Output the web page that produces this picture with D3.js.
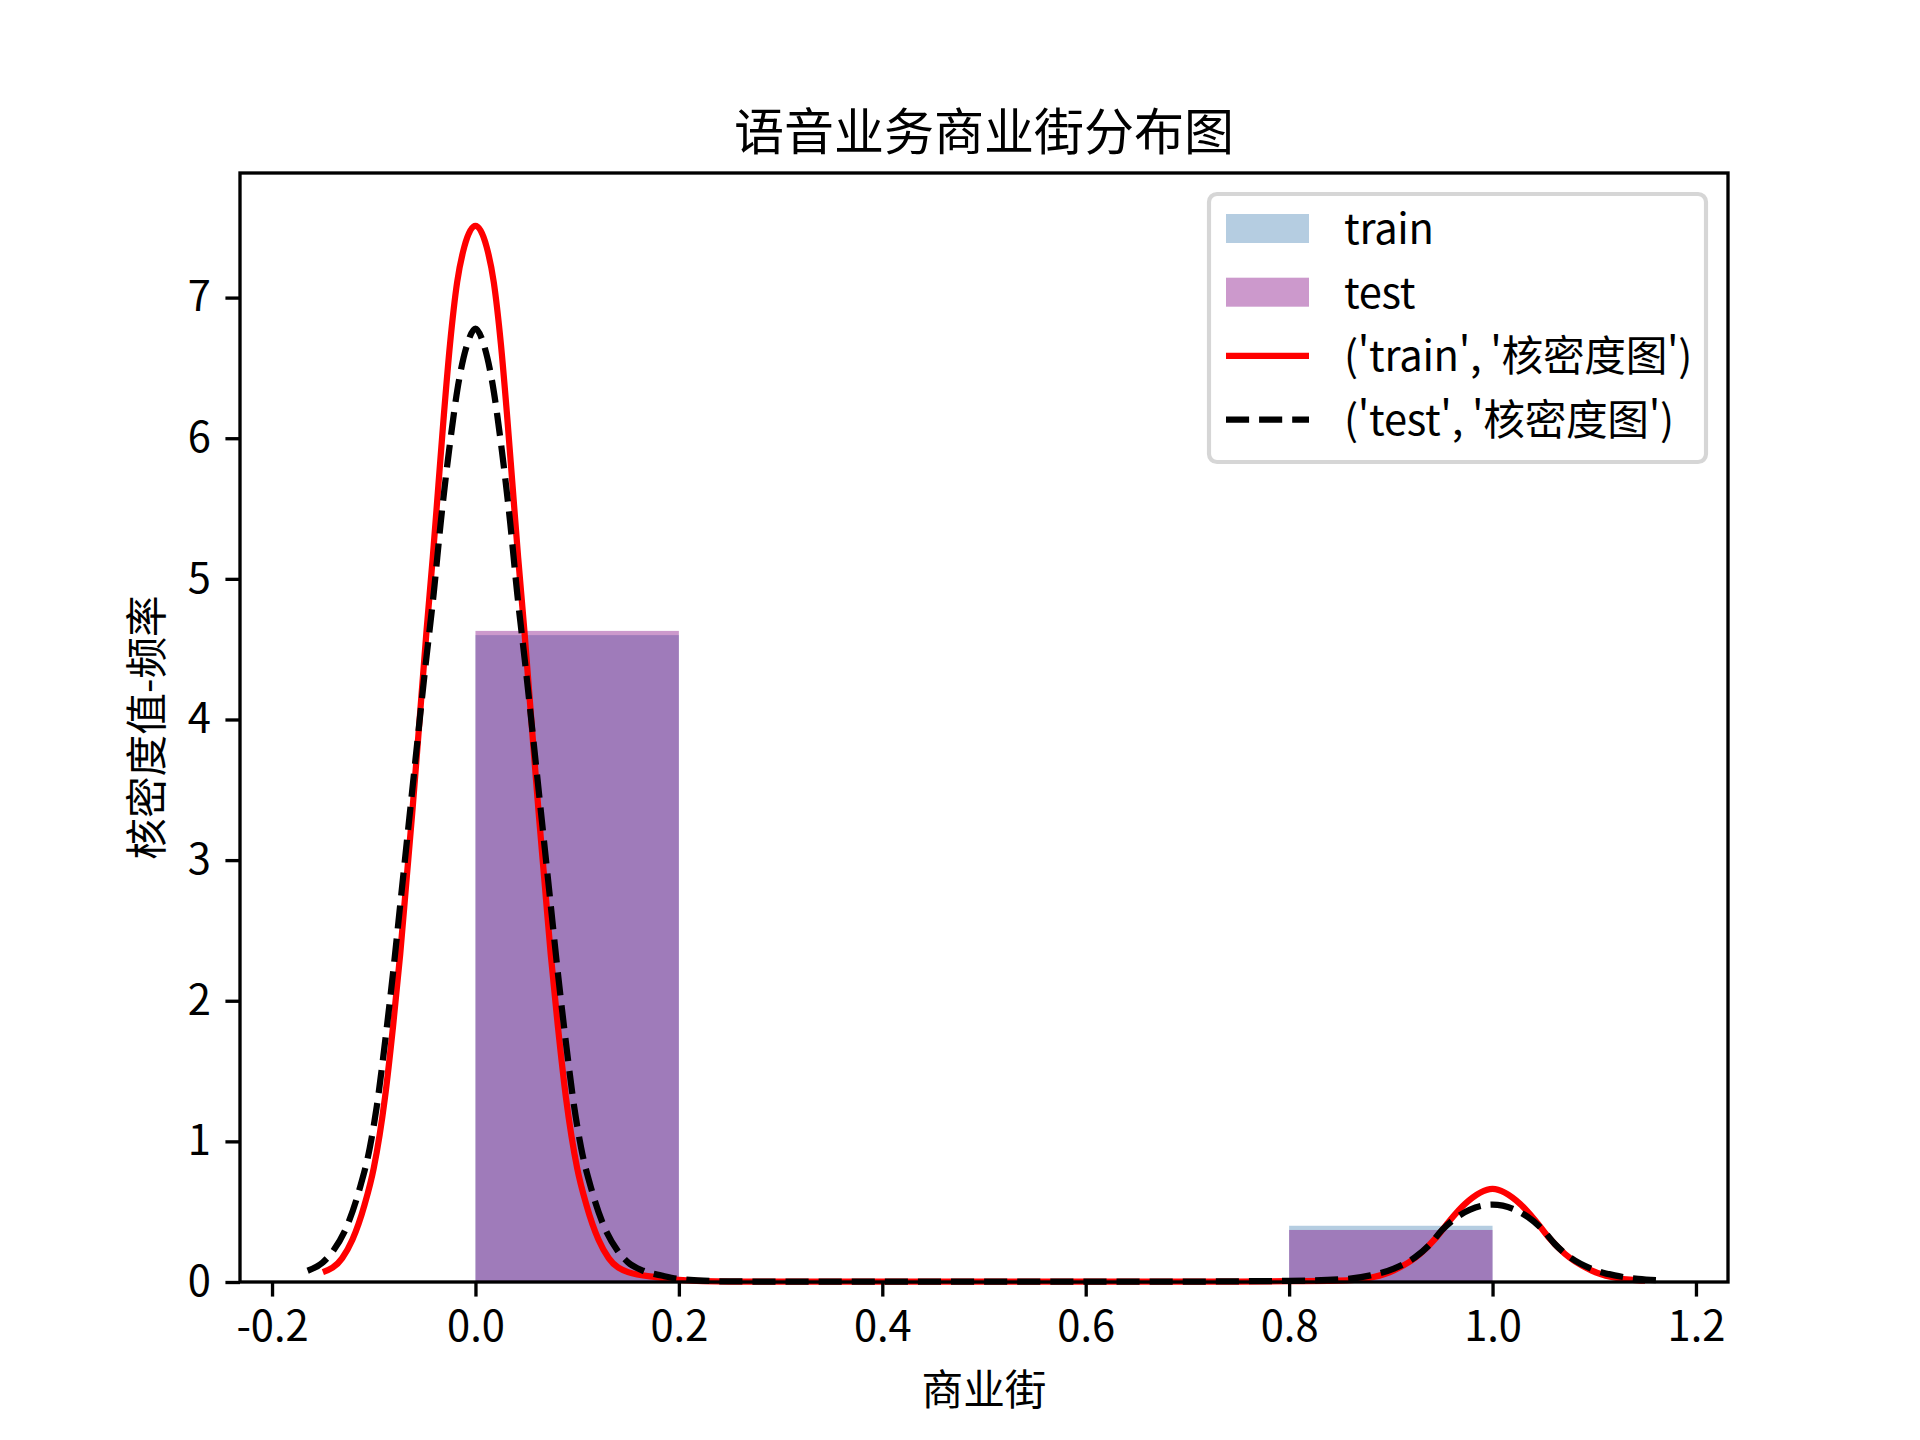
<!DOCTYPE html>
<html lang="zh">
  <head>
    <meta charset="utf-8">
    <title>语音业务商业街分布图</title>
    <script src="https://cdnjs.cloudflare.com/ajax/libs/d3/7.8.5/d3.min.js"></script>
    <style>
      body { margin: 0; background: #fff; }
      text { font-family: 'Noto Sans CJK SC', 'Noto Sans', sans-serif; fill: #000; }
    </style>
  </head>
  <body>
    <div id='chart'></div>

    <script type='text/javascript'>
      // histogram (density) values, 5 bins between 0 and 1
      let binEdges = [0, 0.2, 0.4, 0.6, 0.8, 1.0];
      let trainHist = [4.60, 0, 0, 0, 0.40];
      let testHist = [4.63, 0, 0, 0, 0.37];

      // kernel density curves
      let trainKdeX = [-0.150, -0.131, -0.121, -0.109, -0.100, -0.089, -0.081, -0.074, -0.068, -0.062, -0.0565, -0.048, -0.042, -0.0365, -0.031, -0.025, -0.018, -0.011, 0,
                       0.011, 0.018, 0.025, 0.031, 0.0365, 0.042, 0.048, 0.0565, 0.062, 0.068, 0.074, 0.081, 0.089, 0.100, 0.109, 0.121, 0.131, 0.150, 0.179, 0.200,
                       0.250, 0.300, 0.700, 0.750, 0.800, 0.857, 0.883, 0.903, 0.929, 0.945, 0.958, 0.973, 1.000, 1.027, 1.042, 1.055, 1.071, 1.097, 1.117, 1.143, 1.150];
      let trainKdeY = [0.07, 0.17, 0.30, 0.55, 0.81, 1.31, 1.82, 2.33, 2.84, 3.35, 3.85, 4.64, 5.15, 5.66, 6.17, 6.67, 7.11, 7.36, 7.51,
                       7.36, 7.11, 6.67, 6.17, 5.66, 5.15, 4.64, 3.85, 3.35, 2.84, 2.33, 1.82, 1.31, 0.81, 0.55, 0.30, 0.17, 0.07, 0.033, 0.015,
                       0.003, 0.002, 0.002, 0.003, 0.006, 0.012, 0.035, 0.083, 0.201, 0.319, 0.438, 0.556, 0.662, 0.556, 0.438, 0.319, 0.201, 0.083, 0.035, 0.012, 0.010];

      let testKdeX = [-0.165, -0.150, -0.140, -0.125, -0.114, -0.104, -0.097, -0.089, -0.081, -0.073, -0.065, -0.057, -0.049, -0.041, -0.034, -0.026, -0.016, -0.008, 0,
                      0.008, 0.016, 0.026, 0.034, 0.041, 0.049, 0.057, 0.065, 0.073, 0.081, 0.089, 0.097, 0.104, 0.114, 0.125, 0.140, 0.150, 0.165, 0.183, 0.200,
                      0.250, 0.300, 0.700, 0.750, 0.800, 0.857, 0.880, 0.903, 0.924, 0.939, 0.950, 0.965, 1.000, 1.035, 1.050, 1.061, 1.076, 1.097, 1.120, 1.143, 1.165];
      let testKdeY = [0.08, 0.14, 0.22, 0.42, 0.66, 0.95, 1.25, 1.70, 2.20, 2.75, 3.30, 3.85, 4.39, 4.90, 5.41, 5.91, 6.42, 6.67, 6.78,
                      6.67, 6.42, 5.91, 5.41, 4.90, 4.39, 3.85, 3.30, 2.75, 2.20, 1.70, 1.25, 0.95, 0.66, 0.42, 0.22, 0.14, 0.08, 0.046, 0.022,
                      0.004, 0.003, 0.003, 0.005, 0.008, 0.022, 0.047, 0.095, 0.177, 0.272, 0.367, 0.461, 0.550, 0.461, 0.367, 0.272, 0.177, 0.095, 0.047, 0.022, 0.012];

      let xTicks = [-0.2, 0.0, 0.2, 0.4, 0.6, 0.8, 1.0, 1.2];
      let yTicks = [0, 1, 2, 3, 4, 5, 6, 7];
      let legendLabels = ['train', 'test', "('train', '核密度图')", "('test', '核密度图')"];

      let margin = {top: 173, right: 192, bottom: 158, left: 240};
      let width = 1920 - margin.left - margin.right;
      let height = 1440 - margin.top - margin.bottom;
      let fs = 41.67;
      let tick = 14.58;

      let svg = d3.select('#chart').append('svg')
        .attr('width', 1920)
        .attr('height', 1440);
      let canvas = svg.append('g')
        .attr('transform', 'translate(' + margin.left + ',' + margin.top + ')');

      let x = d3.scaleLinear().domain([-0.2315, 1.2315]).range([0, width]);
      let y = d3.scaleLinear().domain([0, 7.886]).range([height, 0]);

      // bars: train first, test drawn over it
      let bins = trainHist.map((d, i) => ({x0: binEdges[i], x1: binEdges[i + 1], train: d, test: testHist[i]}));
      [['train', 'steelblue'], ['test', 'purple']].forEach(([key, col]) => {
        canvas.append('g').selectAll('rect')
          .data(bins.filter(b => b[key] > 0))
          .enter().append('rect')
          .attr('x', d => x(d.x0))
          .attr('width', d => x(d.x1) - x(d.x0))
          .attr('y', d => y(d[key]))
          .attr('height', d => y(0) - y(d[key]))
          .attr('fill', col)
          .attr('fill-opacity', 0.4);
      });

      let line = d3.line()
        .x(d => x(d[0]))
        .y(d => y(d[1]))
        .curve(d3.curveMonotoneX);

      canvas.append('path')
        .datum(trainKdeX.map((v, i) => [v, trainKdeY[i]]))
        .attr('d', line)
        .attr('fill', 'none')
        .attr('stroke', 'red')
        .attr('stroke-width', 6.25);

      canvas.append('path')
        .datum(testKdeX.map((v, i) => [v, testKdeY[i]]))
        .attr('d', line)
        .attr('fill', 'none')
        .attr('stroke', 'black')
        .attr('stroke-width', 6.25)
        .attr('stroke-dasharray', '23.1,10');

      // axes
      let xAxis = canvas.append('g')
        .attr('transform', 'translate(0,' + height + ')')
        .call(d3.axisBottom(x).tickValues(xTicks).tickFormat(d => d.toFixed(1)).tickSize(tick).tickPadding(tick));
      let yAxis = canvas.append('g')
        .call(d3.axisLeft(y).tickValues(yTicks).tickFormat(d => String(d)).tickSize(tick).tickPadding(tick));
      [xAxis, yAxis].forEach(a => {
        a.select('.domain').remove();
        a.selectAll('line').attr('stroke', '#000').attr('stroke-width', 3.33);
        a.selectAll('text').attr('font-size', fs).attr('font-family', "'Noto Sans CJK SC', sans-serif");
      });

      // spines
      canvas.append('rect')
        .attr('width', width)
        .attr('height', height)
        .attr('fill', 'none')
        .attr('stroke', '#000')
        .attr('stroke-width', 3.33);

      // titles
      svg.append('text')
        .attr('x', margin.left + width / 2)
        .attr('y', 128)
        .attr('text-anchor', 'middle')
        .attr('dominant-baseline', 'central')
        .attr('font-size', 50)
        .text('语音业务商业街分布图');
      svg.append('text')
        .attr('x', margin.left + width / 2)
        .attr('y', 1387)
        .attr('text-anchor', 'middle')
        .attr('dominant-baseline', 'central')
        .attr('font-size', fs)
        .text('商业街');
      svg.append('text')
        .attr('transform', 'translate(144,' + (margin.top + height / 2) + ') rotate(-90)')
        .attr('text-anchor', 'middle')
        .attr('dominant-baseline', 'central')
        .attr('font-size', fs)
        .text('核密度值-频率');

      // legend
      let legend = svg.append('g');
      legend.append('rect')
        .attr('x', 1209)
        .attr('y', 194)
        .attr('width', 497)
        .attr('height', 268)
        .attr('rx', 8)
        .attr('fill', '#fff')
        .attr('fill-opacity', 0.8)
        .attr('stroke', '#d6d6d6')
        .attr('stroke-width', 4.17);
      let rows = legendLabels.map((t, i) => ({label: t, cy: 228.5 + i * 63.7, i: i}));
      let item = legend.selectAll('.item').data(rows).enter().append('g').attr('class', 'item');
      item.filter(d => d.i < 2).append('rect')
        .attr('x', 1226)
        .attr('y', d => d.cy - 14.5)
        .attr('width', 83)
        .attr('height', 29)
        .attr('fill', d => d.i == 0 ? 'steelblue' : 'purple')
        .attr('fill-opacity', 0.4);
      item.filter(d => d.i >= 2).append('line')
        .attr('x1', 1226)
        .attr('x2', 1309)
        .attr('y1', d => d.cy)
        .attr('y2', d => d.cy)
        .attr('stroke', d => d.i == 2 ? 'red' : 'black')
        .attr('stroke-width', 6.25)
        .attr('stroke-dasharray', d => d.i == 3 ? '23.1,10' : null);
      item.append('text')
        .attr('x', 1344)
        .attr('y', d => d.cy - 2.5)
        .attr('dominant-baseline', 'central')
        .attr('font-size', fs)
        .attr('letter-spacing', -0.3)
        .text(d => d.label);
    </script>
  </body>
</html>
